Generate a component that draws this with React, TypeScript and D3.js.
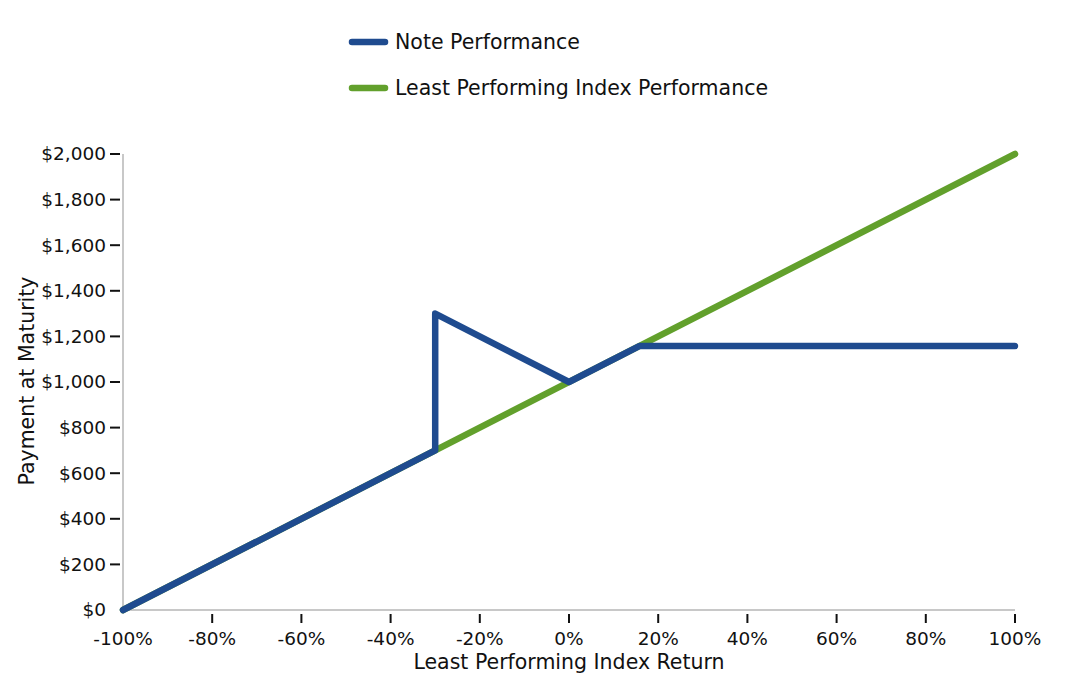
import React from "react";
import * as d3 from "d3";

const returns = [-100, -30, -30, 0, 15.75, 100];
const notePayments = [0, 700, 1300, 1000, 1157.5, 1157.5];
const indexReturns = [-100, 100];
const indexPayments = [0, 2000];
const xTicks = [-100, -80, -60, -40, -20, 0, 20, 40, 60, 80, 100];
const yTicks = [0, 200, 400, 600, 800, 1000, 1200, 1400, 1600, 1800, 2000];
const seriesNames = ["Note Performance", "Least Performing Index Performance"];
const colors = ["#1f4b8f", "#62a02c"];

export default function App() {
  const W = 1088, H = 688;
  const x = d3.scaleLinear().domain([-100, 100]).range([123, 1015]);
  const y = d3.scaleLinear().domain([0, 2000]).range([610, 154]);
  const line = d3.line<[number, number]>().x(d => x(d[0])).y(d => y(d[1]));
  const noteData: [number, number][] = returns.map((r, i) => [r, notePayments[i]]);
  const idxData: [number, number][] = indexReturns.map((r, i) => [r, indexPayments[i]]);
  const font = "DejaVu Sans, sans-serif";
  const fmt = d3.format(",");
  return (
    <svg width={W} height={H} style={{ position: "absolute", left: 0, top: 0 }} fontFamily={font}>
      <rect width={W} height={H} fill="#fff" />
      {seriesNames.map((n, i) => (
        <g key={n} transform={`translate(0, ${42 + i * 46})`}>
          <line x1={352} x2={385} y1={0} y2={0} stroke={colors[i]} strokeWidth={6.5} strokeLinecap="round" />
          <text x={395} y={0} dy="0.35em" fontSize={20.5} fill="#111">{n}</text>
        </g>
      ))}
      <line x1={x(-100)} x2={x(100)} y1={y(0)} y2={y(0)} stroke="#c8c8c8" strokeWidth={2} />
      <line x1={x(-100)} x2={x(-100)} y1={y(0)} y2={y(2000)} stroke="#c8c8c8" strokeWidth={2} />
      {yTicks.map((t, i) => (
        <g key={t}>
          {i > 0 && <line x1={110} x2={120} y1={y(t)} y2={y(t)} stroke="#111" strokeWidth={2} />}
          <text x={106} y={y(t)} dy="0.35em" textAnchor="end" fontSize={18.5} fill="#111">{"$" + fmt(t)}</text>
        </g>
      ))}
      {xTicks.map((t, i) => (
        <g key={t}>
          {i > 0 && <line x1={x(t)} x2={x(t)} y1={614} y2={623} stroke="#111" strokeWidth={2} />}
          <text x={x(t)} y={639} dy="0.35em" textAnchor="middle" fontSize={18.5} fill="#111">{t + "%"}</text>
        </g>
      ))}
      <text x={569} y={662} dy="0.35em" textAnchor="middle" fontSize={20.5} fill="#111">Least Performing Index Return</text>
      <text transform={`translate(27, ${381}) rotate(-90)`} dy="0.35em" textAnchor="middle" fontSize={20.5} fill="#111">Payment at Maturity</text>
      <path d={line(idxData) || ""} fill="none" stroke={colors[1]} strokeWidth={6.5} strokeLinecap="round" strokeLinejoin="round" />
      <path d={line(noteData) || ""} fill="none" stroke={colors[0]} strokeWidth={6.5} strokeLinecap="round" strokeLinejoin="round" />
    </svg>
  );
}
